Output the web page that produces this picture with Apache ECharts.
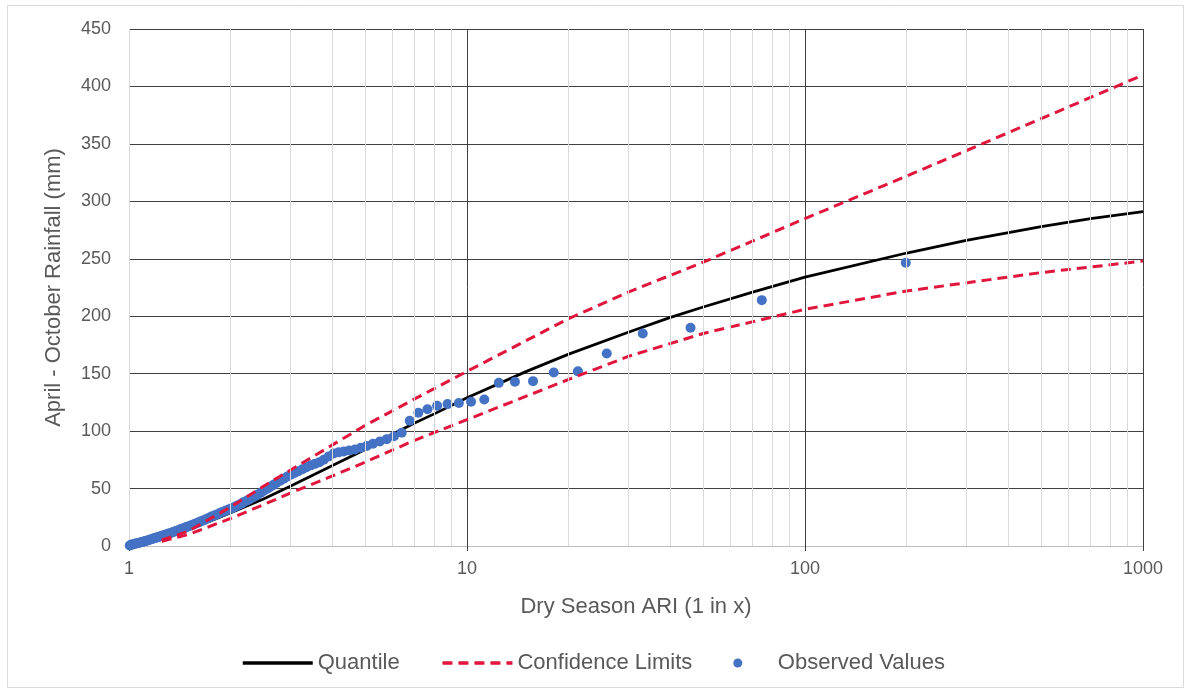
<!DOCTYPE html>
<html>
<head>
<meta charset="utf-8">
<script src="https://cdn.jsdelivr.net/npm/echarts@6/dist/echarts.min.js"></script>
<style>
html,body{margin:0;padding:0;background:#fff;}
#chart{width:1191px;height:691px;}
</style>
</head>
<body>
<div id="chart"></div>
<script>
// ---- Data ----
const yTicks = [0, 50, 100, 150, 200, 250, 300, 350, 400, 450];
const xTicks = [1, 10, 100, 1000];
const minorGridX = [2,3,4,5,6,7,8,9,20,30,40,50,60,70,80,90,200,300,400,500,600,700,800,900];

const quantileARI = [1,1.1,1.2,1.3,1.5,1.75,2,2.5,3,4,5,6,7,8,10,15,20,30,40,50,70,100,200,300,500,700,1000];
const quantileRain = [0,3,6,9,15,22,29,41,52,70,84,97,107,115,129,152,167,186,199,208,221,234,255,266,278,285,291];

const upperARI = [1.25,1.5,2,2.5,3,4,5,7,10,20,30,50,100,200,500,1000];
const upperRain = [5,13,34,52,66,88,105,128,152,198,221,247,285,322,372,410];

const lowerARI = [1.25,1.5,2,2.5,3,4,5,7,10,20,30,50,100,200,500,1000];
const lowerRain = [4,10,24,36,46,61,73,92,110,145,165,185,206,222,238,248];

const obsARI = [
  1.005,1.014,1.022,1.031,1.040,1.049,1.058,1.068,1.078,1.088,
  1.098,1.108,1.118,1.129,1.140,1.151,1.162,1.173,1.185,1.197,
  1.209,1.221,1.234,1.247,1.260,1.274,1.287,1.301,1.316,1.330,
  1.346,1.361,1.376,1.393,1.409,1.426,1.443,1.461,1.479,1.497,
  1.517,1.536,1.556,1.577,1.598,1.620,1.642,1.665,1.688,1.713,
  1.738,1.763,1.790,1.820,1.850,1.880,1.910,1.940,1.970,2.000,
  2.03,2.07,2.11,2.15,2.18,2.23,2.27,2.31,2.36,2.40,
  2.45,2.50,2.56,2.61,2.67,2.73,2.80,2.87,2.94,3.01,
  3.09,3.17,3.26,3.35,3.45,3.55,3.66,3.77,3.90,4.03,
  4.17,4.32,4.48,4.66,4.85,5.05,5.27,5.52,5.79,6.08,
  6.41,6.77,7.18,7.64,8.16,8.76,9.46,10.28,11.25,12.42,
  13.86,15.68,18.06,21.29,25.91,33.11,45.85,74.5,198.7
];
const obsRain = [
  0.5,1.0,1.3,1.6,1.9,2.1,2.4,2.7,3.0,3.3,
  3.6,3.9,4.3,4.6,5.0,5.4,5.8,6.2,6.7,7.1,
  7.5,7.9,8.3,8.8,9.2,9.6,10.1,10.5,11.0,11.4,
  11.9,12.5,13.0,13.6,14.1,14.7,15.3,15.9,16.5,17.0,
  17.6,18.2,18.9,19.6,20.3,21.0,21.8,22.5,23.3,24.1,
  25.0,25.8,26.6,27.5,28.4,29.3,30.1,31.0,31.8,32.5,
  33.3,34.5,35.7,36.9,38.0,39.4,40.6,41.8,43.4,44.7,
  46.2,47.8,49.7,51.2,53.0,54.8,56.8,58.6,60.4,62.0,
  63.5,65.0,66.8,68.5,70.2,71.5,73.0,75.0,78.0,80.5,
  81.5,82.3,83.2,84.0,85.5,87.0,89.0,91.0,93.0,95.5,
  98.5,109,116,119,122,123.5,124.5,125.5,127.5,142,
  143,143.5,151,152,167.5,185,190,214,246.5
];

// ---- Build ----
const zip = (a, b) => a.map((v, i) => [v, b[i]]);
const textColor = '#595959';
const darkGrid = '#404040';
const redColor = '#e0163c';
const fontFam = '"Liberation Sans", Arial, sans-serif';

const chart = echarts.init(document.getElementById('chart'), null, {renderer: 'canvas'});
chart.setOption({
  animation: false,
  backgroundColor: '#ffffff',
  textStyle: {fontFamily: fontFam, color: textColor},
  graphic: [{
    type: 'rect', silent: true, z: -10,
    shape: {x: 7.5, y: 5.5, width: 1176, height: 682},
    style: {fill: 'none', stroke: '#d9d9d9', lineWidth: 1}
  }],
  grid: {left: 129, right: 48, top: 29, bottom: 145, containLabel: false},
  xAxis: {
    type: 'log', logBase: 10, min: xTicks[0], max: xTicks[xTicks.length - 1],
    name: 'Dry Season ARI (1 in x)', nameLocation: 'middle', nameGap: 50,
    nameTextStyle: {fontSize: 22, color: textColor, fontFamily: fontFam},
    axisLine: {show: true, lineStyle: {color: '#bfbfbf', width: 1}},
    axisTick: {show: true, length: 5, lineStyle: {color: darkGrid}},
    axisLabel: {fontSize: 18, color: textColor, margin: 14, fontFamily: fontFam,
      formatter: v => String(Math.round(v))},
    splitLine: {show: true, lineStyle: {color: ['#d9d9d9', darkGrid, darkGrid, darkGrid], width: 1}}
  },
  yAxis: {
    type: 'value', min: yTicks[0], max: yTicks[yTicks.length - 1], interval: 50,
    name: 'April - October Rainfall (mm)', nameLocation: 'middle', nameGap: 64,
    nameTextStyle: {fontSize: 22, color: textColor, fontFamily: fontFam},
    axisLine: {show: false}, axisTick: {show: false},
    axisLabel: {fontSize: 18, color: textColor, margin: 18, fontFamily: fontFam},
    splitLine: {show: true, lineStyle: {color: ['#bfbfbf'].concat(yTicks.slice(1).map(() => darkGrid)), width: 1}}
  },
  legend: {
    bottom: 17, left: 241, padding: 0,
    itemWidth: 70, itemHeight: 9, itemGap: 41, itemTextGap: 4,
    textStyle: {fontSize: 22, color: textColor, fontFamily: fontFam},
    data: [
      {name: 'Quantile', itemStyle: {opacity: 0}, lineStyle: {width: 3.5}},
      {name: 'Confidence Limits', itemStyle: {opacity: 0}, lineStyle: {width: 3.5}},
      {name: 'Observed Values', icon: 'circle'}
    ]
  },
  series: [
    {
      name: 'Minor grid', type: 'line', data: [], silent: true,
      markLine: {
        silent: true, symbol: 'none', label: {show: false},
        lineStyle: {color: '#d9d9d9', width: 1, type: 'solid'},
        data: minorGridX.map(v => ({xAxis: v}))
      },
      z: 0
    },
    {
      name: 'Quantile', type: 'line', data: zip(quantileARI, quantileRain),
      showSymbol: false, symbol: 'none', smooth: false,
      lineStyle: {color: '#000000', width: 2.75}, itemStyle: {color: '#000000'}, z: 2
    },
    {
      name: 'Observed Values', type: 'scatter', data: zip(obsARI, obsRain),
      symbol: 'circle', symbolSize: 10,
      itemStyle: {color: '#4472c4', opacity: 1}, z: 3
    },
    {
      name: 'Confidence Limits', type: 'line', data: zip(upperARI, upperRain),
      showSymbol: false, symbol: 'none', smooth: false,
      lineStyle: {color: redColor, width: 3, type: [10, 6]}, itemStyle: {color: redColor}, z: 4
    },
    {
      name: 'Confidence Limits', type: 'line', data: zip(lowerARI, lowerRain),
      showSymbol: false, symbol: 'none', smooth: false,
      lineStyle: {color: redColor, width: 3, type: [10, 6]}, itemStyle: {color: redColor}, z: 4
    }
  ]
});
</script>
</body>
</html>
